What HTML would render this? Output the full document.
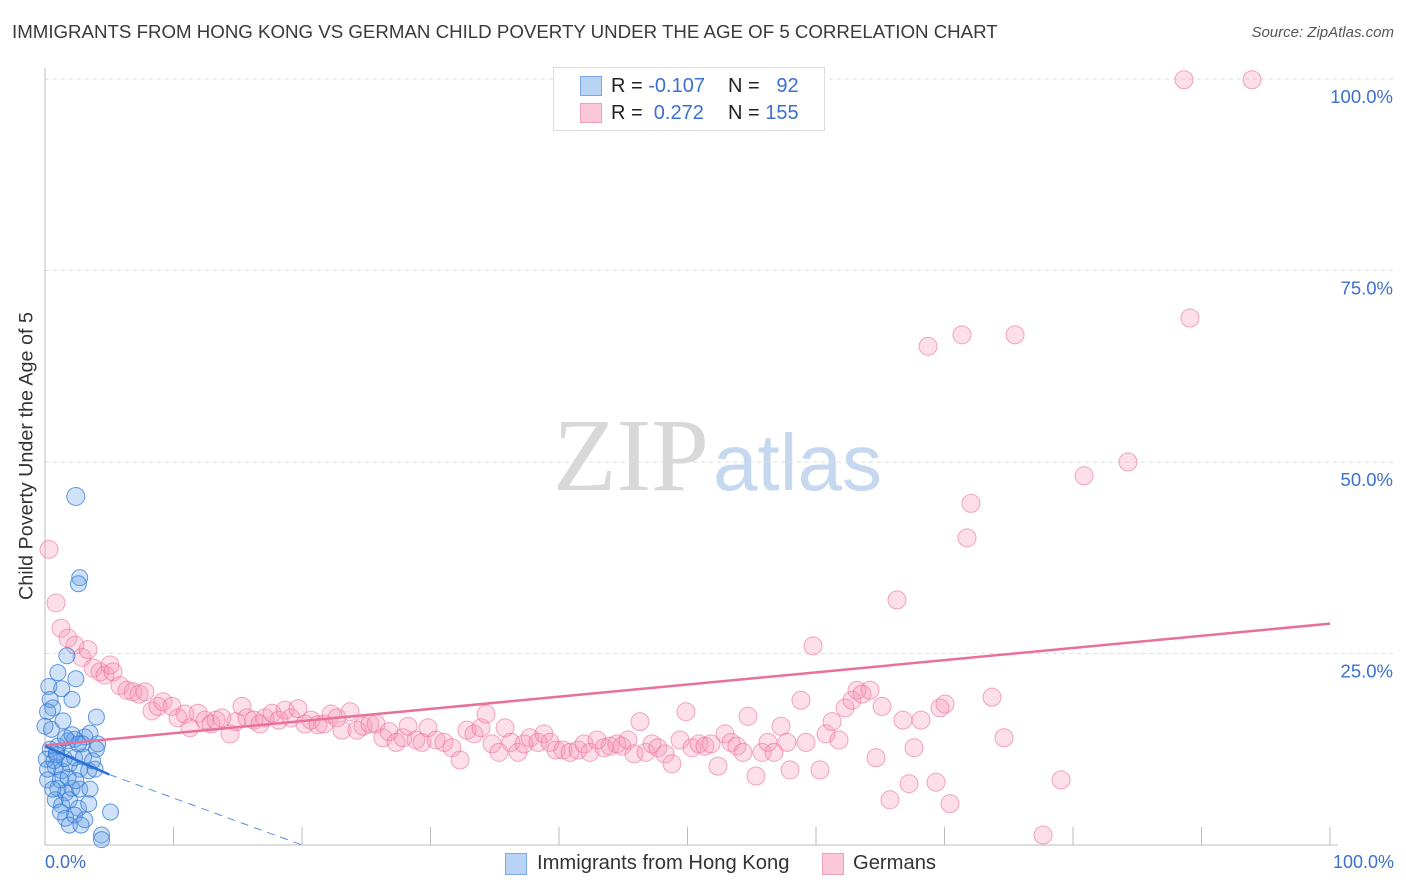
<!DOCTYPE html>
<html><head><meta charset="utf-8"><style>
body{margin:0;background:#fff;font-family:"Liberation Sans",sans-serif;}
#wrap{position:relative;width:1406px;height:892px;overflow:hidden;}
.t{position:absolute;white-space:nowrap;}
</style></head><body>
<div id="wrap">
<div class="t" style="left:12px;top:21px;font-size:18.7px;color:#3a3a3a;">IMMIGRANTS FROM HONG KONG VS GERMAN CHILD POVERTY UNDER THE AGE OF 5 CORRELATION CHART</div>
<div class="t" style="right:12px;top:24px;font-size:15px;color:#555;font-style:italic;">Source: ZipAtlas.com</div>
<div class="t" style="left:27px;top:456px;font-size:19.8px;color:#333;transform:translate(-50%,-50%) rotate(-90deg);">Child Poverty Under the Age of 5</div>
<div class="t" style="left:553px;top:396px;font-size:104px;color:#d8d8d8;font-family:'Liberation Serif',serif;">ZIP<span style="font-family:'Liberation Sans',sans-serif;color:#c5d8f0;font-size:80px;margin-left:4px">atlas</span></div>
<svg id="svg" width="1406" height="892" style="position:absolute;left:0;top:0"></svg>
<div style="position:absolute;left:553px;top:67px;width:270px;height:62px;border:1px solid #ddd;background:#fff;font-size:20px;">
 <div style="position:absolute;left:26px;top:8px;width:20px;height:18px;background:#b9d3f5;border:1px solid #7aa8e8"></div>
 <div class="t" style="left:57px;top:7px;color:#222">R = <span style="color:#3b6fd0">-0.107</span></div>
 <div class="t" style="left:174px;top:7px;color:#222">N = <span style="color:#3b6fd0">&nbsp;&nbsp;92</span></div>
 <div style="position:absolute;left:26px;top:35px;width:20px;height:18px;background:#fcc8d8;border:1px solid #f0a0b8"></div>
 <div class="t" style="left:57px;top:34px;color:#222">R = <span style="color:#3b6fd0">&nbsp;0.272</span></div>
 <div class="t" style="left:174px;top:34px;color:#222">N = <span style="color:#3b6fd0">155</span></div>
</div>
<div class="t" style="left:45px;top:852px;font-size:18px;color:#3b6fd0">0.0%</div>
<div class="t" style="right:12px;top:852px;font-size:18px;color:#3b6fd0">100.0%</div>
<div style="position:absolute;left:505px;top:853px;width:20px;height:20px;background:#b9d3f5;border:1px solid #7aa8e8"></div>
<div class="t" style="left:537px;top:852px;font-size:20.2px;color:#333">Immigrants from Hong Kong</div>
<div style="position:absolute;left:822px;top:853px;width:20px;height:20px;background:#fcc8d8;border:1px solid #f0a0b8"></div>
<div class="t" style="left:853px;top:852px;font-size:20.2px;color:#333">Germans</div>
</div>
<script>
const yTicks=[25,50,75,100];
const yTickLabels=["25.0%","50.0%","75.0%","100.0%"];
const xTicks=[10,20,30,40,50,60,70,80,90,100];
const pinkX=[0.31,0.86,1.25,1.79,2.33,2.88,3.35,3.74,4.28,4.67,5.06,5.29,5.84,6.38,6.85,7.32,7.78,8.33,8.79,9.18,9.88,10.35,10.89,11.28,11.91,12.45,12.92,13.31,13.77,14.4,14.86,15.33,15.72,16.26,16.73,17.12,17.67,18.21,18.68,19.14,19.69,20.23,20.7,21.25,21.71,22.26,22.72,23.11,23.74,24.28,24.75,25.29,25.76,26.3,26.77,27.32,27.86,28.25,28.87,29.34,29.81,30.43,31.05,31.67,32.3,32.84,33.39,33.93,34.32,34.79,35.33,35.8,36.26,36.81,37.28,37.74,38.37,38.83,39.3,39.77,40.31,40.86,41.48,41.95,42.41,42.96,43.5,43.97,44.51,44.9,45.37,45.84,46.3,46.77,47.24,47.7,48.25,48.79,49.42,49.88,50.35,50.89,51.36,51.83,52.37,52.92,53.39,53.85,54.32,54.71,55.33,55.8,56.26,56.73,57.28,57.74,57.98,58.83,59.22,59.77,60.31,60.78,61.25,61.79,62.26,62.8,63.19,63.58,64.2,64.67,65.14,65.76,66.3,66.77,67.24,67.63,68.17,68.72,69.34,69.65,70.04,70.43,71.36,71.75,72.06,73.7,74.63,75.49,77.67,79.07,80.86,84.28,88.64,89.1,93.93];
const pinkY=[38.6,31.6,28.3,27.0,26.1,24.5,25.5,23.1,22.6,22.2,23.5,22.6,20.8,20.2,20.0,19.7,20.0,17.5,18.1,18.7,18.1,16.6,17.1,15.3,17.2,16.3,15.8,16.3,16.6,14.5,16.1,18.1,16.6,16.3,15.8,16.6,17.2,16.3,17.6,16.6,17.8,15.8,16.3,15.7,15.8,17.1,16.6,15.0,17.4,15.0,15.5,15.8,15.8,14.0,14.8,13.4,14.0,15.5,13.7,13.4,15.3,13.7,13.4,12.7,11.1,15.0,14.5,15.3,17.1,13.2,12.1,15.3,13.4,12.1,13.2,14.0,13.4,14.5,13.4,12.4,12.4,12.1,12.4,13.2,12.1,13.7,12.7,12.9,13.2,12.9,13.7,11.9,16.1,12.1,13.2,12.7,11.9,10.6,13.7,17.4,12.7,13.2,12.9,13.2,10.3,14.5,13.4,12.9,12.1,16.8,9.0,12.1,13.4,12.1,15.5,13.4,9.8,18.9,13.4,26.0,9.8,14.5,16.1,13.7,17.9,18.9,20.2,19.7,20.2,11.4,18.1,5.9,32.0,16.3,8.0,12.7,16.3,65.1,8.2,17.9,18.4,5.4,66.6,40.1,44.6,19.3,14.0,66.6,1.3,8.5,48.2,50.0,99.9,68.8,99.9];
const blueX=[2.4,2.7,2.6,1.7,1.0,0.3,1.3,2.4,2.1,4.0,0.4,0.5,1.4,1.8,3.1,3.5,4.0,2.3,2.9,1.0,0.4,0.1,0.8,1.3,1.9,2.7,3.4,3.9,0.2,1.0,1.6,2.1,2.7,3.5,0.8,1.3,1.9,2.6,3.4,1.6,2.3,3.1,1.9,2.8,5.1,4.4,4.4,0.6,0.2,0,0.9,1.5,2.3,3.0,0.7,1.2,1.8,2.4,1.2,0.6,0.2,4.1,3.7,1.6,2.1,2.6,0.9];
const blueY=[45.5,34.9,34.1,24.7,22.5,20.7,20.4,21.7,19.0,16.7,19.0,15.1,16.2,13.6,14.1,14.6,12.5,13.8,13.2,12.9,12.5,11.2,10.2,9.7,10.6,9.9,9.7,9.9,8.5,7.4,6.8,7.4,7.3,7.3,5.9,5.2,5.9,4.8,5.4,3.5,3.9,3.3,2.6,2.6,4.3,1.3,0.7,17.9,17.4,15.5,12.1,11.3,11.4,11.5,11.0,8.5,8.8,8.4,4.3,7.3,9.9,13.2,11.0,14.0,14.4,13.2,11.8];
const pinkLine=[[0,13.0],[100,28.9]];
const blueLineSolid=[[0,12.9],[5,9.2]];
const blueLineDash=[[5,9.2],[20,0]];
const X0=45,X1=1330,Y0=845,Y1=79;
const sx=v=>X0+(X1-X0)*v/100, sy=v=>Y0-(Y0-Y1)*v/100;
const svg=document.getElementById('svg'),NS='http://www.w3.org/2000/svg';
function mk(t,a){const e=document.createElementNS(NS,t);for(const k in a)e.setAttribute(k,a[k]);svg.appendChild(e);return e;}
yTicks.forEach((v,i)=>{
 const g=mk('line',{x1:X0,x2:1395,y1:sy(v),y2:sy(v),stroke:'#ddd','stroke-dasharray':'4,4'});
 
 
 const t=mk('text',{x:1393,y:sy(v)+24,'text-anchor':'end','font-size':18.5,fill:'#3b6fd0','font-family':'Liberation Sans, sans-serif'});
 t.textContent=yTickLabels[i];
 
 
});
const ax=mk('line',{x1:X0,x2:X0,y1:68,y2:Y0,stroke:'#bbb'});


const bx=mk('line',{x1:X0,x2:X1+8,y1:Y0,y2:Y0,stroke:'#bbb'});


xTicks.forEach(v=>{const l=mk('line',{x1:sx(v),x2:sx(v),y1:Y0-18,y2:Y0,stroke:'#bbb'});
 
 });
pinkX.forEach((x,i)=>{const c=mk('circle',{cx:sx(x),cy:sy(pinkY[i]),r:9,fill:'rgba(245,150,180,0.3)',stroke:'rgba(236,110,150,0.6)','stroke-width':1});
 
 });
blueX.forEach((x,i)=>{const c=mk('circle',{cx:sx(x),cy:sy(blueY[i]),r:i<1?9:8,fill:'rgba(100,160,230,0.3)',stroke:'rgba(50,120,215,0.75)','stroke-width':1});
 
 });
const pl=mk('line',{x1:sx(pinkLine[0][0]),y1:sy(pinkLine[0][1]),x2:sx(pinkLine[1][0]),y2:sy(pinkLine[1][1]),stroke:'#e8709a','stroke-width':2.5});


const bl=mk('line',{x1:sx(blueLineSolid[0][0]),y1:sy(blueLineSolid[0][1]),x2:sx(blueLineSolid[1][0]),y2:sy(blueLineSolid[1][1]),stroke:'#2a6fd6','stroke-width':2.5});


const bd=mk('line',{x1:sx(blueLineDash[0][0]),y1:sy(blueLineDash[0][1]),x2:sx(blueLineDash[1][0]),y2:sy(blueLineDash[1][1]),stroke:'#5a90e0','stroke-width':1,'stroke-dasharray':'8,6'});


</script>
</body></html>
